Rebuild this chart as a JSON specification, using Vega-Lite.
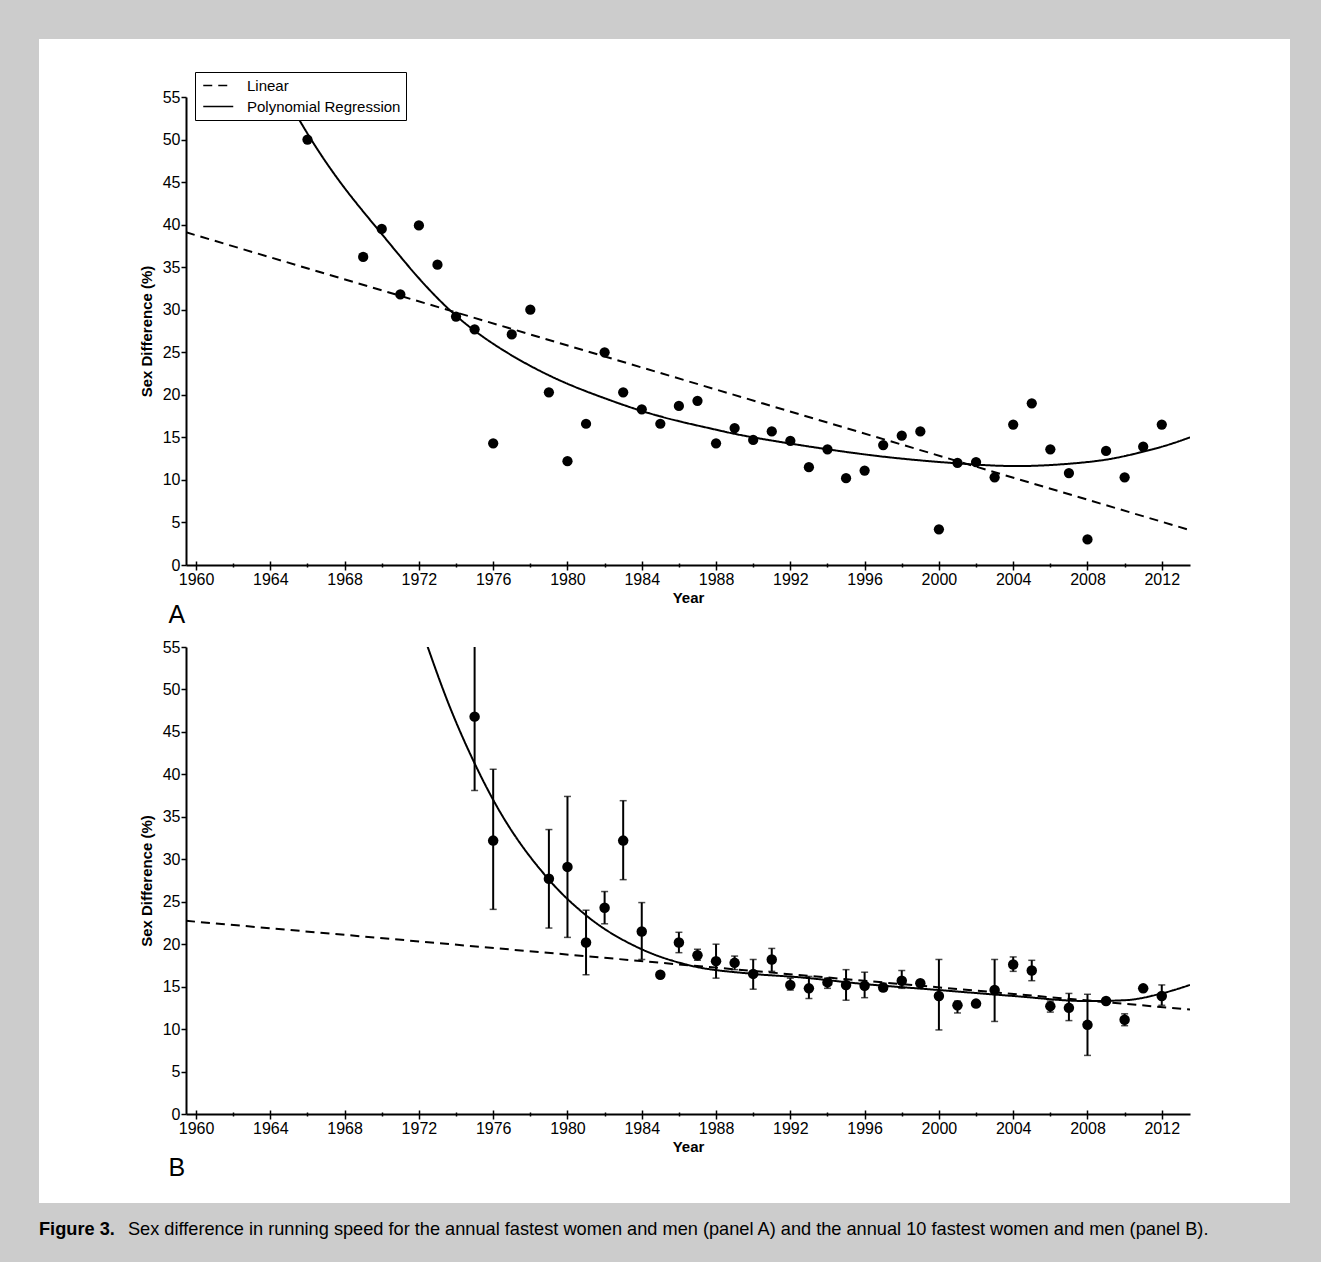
{
  "$schema": "https://vega.github.io/schema/vega-lite/v6.json",
  "background": "#cccccc",
  "padding": {"left": 39, "top": 38, "right": 31, "bottom": 0},
  "bounds": "flush",
  "spacing": 82,
  "config": {
    "view": {"stroke": null},
    "font": "Liberation Sans",
    "axis": {"grid": false, "domainColor": "black", "domainWidth": 2, "tickColor": "black", "tickWidth": 1.5, "labelColor": "black", "labelFont": "Liberation Sans", "titleFont": "Liberation Sans", "titleColor": "black", "titleFontWeight": "bold", "zindex": 1}
  },
  "datasets": {
    "pointsA": [
      {"year": 1966, "value": 50.0}, {"year": 1969, "value": 36.2}, {"year": 1970, "value": 39.5}, {"year": 1971, "value": 31.8},
      {"year": 1972, "value": 39.9}, {"year": 1973, "value": 35.3}, {"year": 1974, "value": 29.2}, {"year": 1975, "value": 27.7},
      {"year": 1976, "value": 14.3}, {"year": 1977, "value": 27.1}, {"year": 1978, "value": 30.0}, {"year": 1979, "value": 20.3},
      {"year": 1980, "value": 12.2}, {"year": 1981, "value": 16.6}, {"year": 1982, "value": 25.0}, {"year": 1983, "value": 20.3},
      {"year": 1984, "value": 18.3}, {"year": 1985, "value": 16.6}, {"year": 1986, "value": 18.7}, {"year": 1987, "value": 19.3},
      {"year": 1988, "value": 14.3}, {"year": 1989, "value": 16.1}, {"year": 1990, "value": 14.7}, {"year": 1991, "value": 15.7},
      {"year": 1992, "value": 14.6}, {"year": 1993, "value": 11.5}, {"year": 1994, "value": 13.6}, {"year": 1995, "value": 10.2},
      {"year": 1996, "value": 11.1}, {"year": 1997, "value": 14.1}, {"year": 1998, "value": 15.2}, {"year": 1999, "value": 15.7},
      {"year": 2000, "value": 4.2}, {"year": 2001, "value": 12.0}, {"year": 2002, "value": 12.1}, {"year": 2003, "value": 10.3},
      {"year": 2004, "value": 16.5}, {"year": 2005, "value": 19.0}, {"year": 2006, "value": 13.6}, {"year": 2007, "value": 10.8},
      {"year": 2008, "value": 3.0}, {"year": 2009, "value": 13.4}, {"year": 2010, "value": 10.3}, {"year": 2011, "value": 13.9},
      {"year": 2012, "value": 16.5}
    ],
    "linesA": [
      {"type": "Linear", "year": 1959.46, "value": 39.1},
      {"type": "Linear", "year": 2013.52, "value": 4.1},
      {"type": "Polynomial Regression", "year": 1964.7, "value": 55.6},
      {"type": "Polynomial Regression", "year": 1966.2, "value": 50.0},
      {"type": "Polynomial Regression", "year": 1968.0, "value": 44.3},
      {"type": "Polynomial Regression", "year": 1970.0, "value": 38.9},
      {"type": "Polynomial Regression", "year": 1972.0, "value": 33.7},
      {"type": "Polynomial Regression", "year": 1974.0, "value": 29.3},
      {"type": "Polynomial Regression", "year": 1976.0, "value": 26.0},
      {"type": "Polynomial Regression", "year": 1978.0, "value": 23.4},
      {"type": "Polynomial Regression", "year": 1980.0, "value": 21.3},
      {"type": "Polynomial Regression", "year": 1982.0, "value": 19.6},
      {"type": "Polynomial Regression", "year": 1984.0, "value": 18.1},
      {"type": "Polynomial Regression", "year": 1986.0, "value": 16.9},
      {"type": "Polynomial Regression", "year": 1988.0, "value": 15.9},
      {"type": "Polynomial Regression", "year": 1990.0, "value": 15.0},
      {"type": "Polynomial Regression", "year": 1994.0, "value": 13.6},
      {"type": "Polynomial Regression", "year": 1998.0, "value": 12.5},
      {"type": "Polynomial Regression", "year": 2002.0, "value": 11.8},
      {"type": "Polynomial Regression", "year": 2005.0, "value": 11.65},
      {"type": "Polynomial Regression", "year": 2008.0, "value": 12.1},
      {"type": "Polynomial Regression", "year": 2010.0, "value": 12.8},
      {"type": "Polynomial Regression", "year": 2012.0, "value": 13.9},
      {"type": "Polynomial Regression", "year": 2013.52, "value": 15.0}
    ],
    "pointsB": [
      {"year": 1975, "value": 46.8, "lo": 38.1, "hi": 57},
      {"year": 1976, "value": 32.2, "lo": 24.1, "hi": 40.6},
      {"year": 1979, "value": 27.7, "lo": 21.9, "hi": 33.5},
      {"year": 1980, "value": 29.1, "lo": 20.8, "hi": 37.4},
      {"year": 1981, "value": 20.2, "lo": 16.4, "hi": 24.0},
      {"year": 1982, "value": 24.3, "lo": 22.4, "hi": 26.2},
      {"year": 1983, "value": 32.2, "lo": 27.6, "hi": 36.9},
      {"year": 1984, "value": 21.5, "lo": 18.2, "hi": 24.9},
      {"year": 1985, "value": 16.4},
      {"year": 1986, "value": 20.2, "lo": 19.0, "hi": 21.4},
      {"year": 1987, "value": 18.7, "lo": 18.1, "hi": 19.4},
      {"year": 1988, "value": 18.0, "lo": 16.0, "hi": 20.0},
      {"year": 1989, "value": 17.8, "lo": 17.0, "hi": 18.6},
      {"year": 1990, "value": 16.5, "lo": 14.7, "hi": 18.2},
      {"year": 1991, "value": 18.2, "lo": 16.8, "hi": 19.5},
      {"year": 1992, "value": 15.2, "lo": 14.6, "hi": 16.0},
      {"year": 1993, "value": 14.8, "lo": 13.6, "hi": 16.2},
      {"year": 1994, "value": 15.5, "lo": 14.8, "hi": 16.0},
      {"year": 1995, "value": 15.2, "lo": 13.4, "hi": 17.0},
      {"year": 1996, "value": 15.1, "lo": 13.7, "hi": 16.7},
      {"year": 1997, "value": 14.9, "lo": 14.5, "hi": 15.4},
      {"year": 1998, "value": 15.7, "lo": 14.8, "hi": 16.9},
      {"year": 1999, "value": 15.4},
      {"year": 2000, "value": 13.9, "lo": 9.9, "hi": 18.2},
      {"year": 2001, "value": 12.8, "lo": 11.9, "hi": 13.3},
      {"year": 2002, "value": 13.0},
      {"year": 2003, "value": 14.6, "lo": 10.9, "hi": 18.2},
      {"year": 2004, "value": 17.6, "lo": 16.8, "hi": 18.5},
      {"year": 2005, "value": 16.9, "lo": 15.7, "hi": 18.1},
      {"year": 2006, "value": 12.7, "lo": 12.0, "hi": 13.3},
      {"year": 2007, "value": 12.5, "lo": 11.0, "hi": 14.2},
      {"year": 2008, "value": 10.5, "lo": 6.9, "hi": 14.1},
      {"year": 2009, "value": 13.3},
      {"year": 2010, "value": 11.1, "lo": 10.4, "hi": 11.8},
      {"year": 2011, "value": 14.8},
      {"year": 2012, "value": 13.9, "lo": 12.8, "hi": 15.2}
    ],
    "linesB": [
      {"type": "Linear", "year": 1959.46, "value": 22.75},
      {"type": "Linear", "year": 2013.52, "value": 12.3},
      {"type": "Polynomial Regression", "year": 1972.3, "value": 56.1},
      {"type": "Polynomial Regression", "year": 1973.6, "value": 48.3},
      {"type": "Polynomial Regression", "year": 1975.0, "value": 41.3},
      {"type": "Polynomial Regression", "year": 1976.0, "value": 37.0},
      {"type": "Polynomial Regression", "year": 1979.0, "value": 27.6},
      {"type": "Polynomial Regression", "year": 1981.0, "value": 23.4},
      {"type": "Polynomial Regression", "year": 1984.0, "value": 19.4},
      {"type": "Polynomial Regression", "year": 1986.4, "value": 17.6},
      {"type": "Polynomial Regression", "year": 1990.0, "value": 16.5},
      {"type": "Polynomial Regression", "year": 1992.5, "value": 16.1},
      {"type": "Polynomial Regression", "year": 1996.0, "value": 15.3},
      {"type": "Polynomial Regression", "year": 2000.0, "value": 14.6},
      {"type": "Polynomial Regression", "year": 2004.0, "value": 13.9},
      {"type": "Polynomial Regression", "year": 2008.0, "value": 13.3},
      {"type": "Polynomial Regression", "year": 2010.0, "value": 13.4},
      {"type": "Polynomial Regression", "year": 2012.0, "value": 14.2},
      {"type": "Polynomial Regression", "year": 2013.52, "value": 15.2}
    ],
    "caption": [
      {"bold": "Figure 3.", "text": "Sex difference in running speed for the annual fastest women and men (panel A) and the annual 10 fastest women and men (panel B)."}
    ]
  },
  "vconcat": [
    {
      "width": 1004,
      "height": 468,
      "layer": [
        {
          "data": {"values": [{}]},
          "mark": {"type": "rect", "fill": "white"},
          "encoding": {
            "x": {"datum": 1951.545, "type": "quantitative", "scale": {"domain": [1959.46, 2013.52], "nice": false, "zero": false},
                  "axis": {"title": "A", "titleX": -18, "titleY": 37, "titleAlign": "left", "titleBaseline": "top", "titleAngle": 0, "titleFontSize": 25, "titleFontWeight": "normal",
                           "orient": "bottom", "labels": false, "domain": false, "zindex": 1,
                           "values": [1960,1962,1964,1966,1968,1970,1972,1974,1976,1978,1980,1982,1984,1986,1988,1990,1992,1994,1996,1998,2000,2002,2004,2006,2008,2010,2012],
                           "tickSize": {"condition": {"test": "datum.value % 4 == 0", "value": -4}, "value": -2}}},
            "x2": {"datum": 2018.904},
            "y": {"datum": 61.82, "type": "quantitative", "scale": {"domain": [0, 55], "nice": false, "zero": false},
                  "axis": {"title": "Sex Difference (%)", "zindex": 1, "values": [0,5,10,15,20,25,30,35,40,45,50,55], "tickSize": 5, "labelFontSize": 16, "labelPadding": 1, "titleFontSize": 15, "titlePadding": 8}},
            "y2": {"datum": -74.98}
          }
        },
        {
          "data": {"name": "linesA"},
          "mark": {"type": "line", "color": "black", "strokeWidth": 2, "clip": true, "interpolate": "natural"},
          "encoding": {
            "x": {"field": "year", "type": "quantitative", "scale": {"domain": [1959.46, 2013.52], "nice": false, "zero": false},
                  "axis": {"title": "Year", "orient": "bottom", "format": "d", "zindex": 1, "values": [1960,1962,1964,1966,1968,1970,1972,1974,1976,1978,1980,1982,1984,1986,1988,1990,1992,1994,1996,1998,2000,2002,2004,2006,2008,2010,2012],
                           "labelExpr": "datum.value % 4 == 0 ? datum.label : ''", "labelFlush": false, "labelOverlap": false,
                           "tickSize": {"condition": {"test": "datum.value % 4 == 0", "value": 5}, "value": 2},
                           "labelFontSize": 16, "labelPadding": 1, "titleFontSize": 15, "titlePadding": 3}},
            "y": {"field": "value", "type": "quantitative", "scale": {"domain": [0, 55], "nice": false, "zero": false},
                  "axis": {"title": "Sex Difference (%)", "zindex": 1, "values": [0,5,10,15,20,25,30,35,40,45,50,55], "tickSize": 5, "labelFontSize": 16, "labelPadding": 1, "titleFontSize": 15, "titlePadding": 8}},
            "strokeDash": {"field": "type", "type": "nominal",
                           "scale": {"domain": ["Linear", "Polynomial Regression"], "range": [[9, 6], [1, 0]]},
                           "legend": {"title": null, "orient": "none", "legendX": 9, "legendY": -25,
                                      "symbolType": "M-0.7,0H3.3", "symbolSize": 225, "symbolStrokeWidth": 1.5, "symbolStrokeColor": "black", "symbolFillColor": "transparent",
                                      "labelFontSize": 15, "labelFont": "Liberation Sans", "labelColor": "black", "labelOffset": 30,
                                      "padding": 5, "rowPadding": 4, "strokeColor": "black", "fillColor": "white"}}
          }
        },
        {
          "data": {"name": "pointsA"},
          "mark": {"type": "point", "shape": "circle", "filled": true, "size": 105, "color": "black", "opacity": 1},
          "encoding": {
            "x": {"field": "year", "type": "quantitative", "scale": {"domain": [1959.46, 2013.52], "nice": false, "zero": false}, "axis": null},
            "y": {"field": "value", "type": "quantitative", "scale": {"domain": [0, 55], "nice": false, "zero": false},
                  "axis": {"title": "Sex Difference (%)", "zindex": 1, "values": [0,5,10,15,20,25,30,35,40,45,50,55], "tickSize": 5, "labelFontSize": 16, "labelPadding": 1, "titleFontSize": 15, "titlePadding": 8}}
          }
        }
      ],
      "resolve": {"axis": {"x": "independent"}}
    },
    {
      "width": 1004,
      "height": 467,
      "layer": [
        {
          "data": {"name": "linesB"},
          "mark": {"type": "line", "color": "black", "strokeWidth": 2, "clip": true, "interpolate": "monotone"},
          "encoding": {
            "x": {"field": "year", "type": "quantitative", "scale": {"domain": [1959.46, 2013.52], "nice": false, "zero": false},
                  "axis": {"title": "Year", "orient": "bottom", "format": "d", "zindex": 1, "values": [1960,1962,1964,1966,1968,1970,1972,1974,1976,1978,1980,1982,1984,1986,1988,1990,1992,1994,1996,1998,2000,2002,2004,2006,2008,2010,2012],
                           "labelExpr": "datum.value % 4 == 0 ? datum.label : ''", "labelFlush": false, "labelOverlap": false,
                           "tickSize": {"condition": {"test": "datum.value % 4 == 0", "value": 5}, "value": 2},
                           "labelFontSize": 16, "labelPadding": 1, "titleFontSize": 15, "titlePadding": 3}},
            "y": {"field": "value", "type": "quantitative", "scale": {"domain": [0, 55], "nice": false, "zero": false},
                  "axis": {"title": "Sex Difference (%)", "zindex": 1, "values": [0,5,10,15,20,25,30,35,40,45,50,55], "tickSize": 5, "labelFontSize": 16, "labelPadding": 1, "titleFontSize": 15, "titlePadding": 8}},
            "strokeDash": {"field": "type", "type": "nominal",
                           "scale": {"domain": ["Linear", "Polynomial Regression"], "range": [[9, 6], [1, 0]]}, "legend": null}
          }
        },
        {
          "data": {"name": "pointsB"},
          "mark": {"type": "rule", "color": "black", "strokeWidth": 2, "clip": true},
          "encoding": {
            "x": {"field": "year", "type": "quantitative", "scale": {"domain": [1959.46, 2013.52], "nice": false, "zero": false},
                  "axis": {"title": "B", "titleX": -18, "titleY": 41, "titleAlign": "left", "titleBaseline": "top", "titleAngle": 0, "titleFontSize": 25, "titleFontWeight": "normal",
                           "orient": "bottom", "labels": false, "domain": false, "zindex": 1,
                           "values": [1960,1962,1964,1966,1968,1970,1972,1974,1976,1978,1980,1982,1984,1986,1988,1990,1992,1994,1996,1998,2000,2002,2004,2006,2008,2010,2012],
                           "tickSize": {"condition": {"test": "datum.value % 4 == 0", "value": -4}, "value": -2}}},
            "y": {"field": "lo", "type": "quantitative", "scale": {"domain": [0, 55], "nice": false, "zero": false},
                  "axis": {"title": "Sex Difference (%)", "zindex": 1, "values": [0,5,10,15,20,25,30,35,40,45,50,55], "tickSize": 5, "labelFontSize": 16, "labelPadding": 1, "titleFontSize": 15, "titlePadding": 8}},
            "y2": {"field": "hi"}
          }
        },
        {
          "data": {"name": "pointsB"},
          "mark": {"type": "tick", "orient": "horizontal", "color": "black", "size": 7, "thickness": 1.5, "clip": true},
          "encoding": {
            "x": {"field": "year", "type": "quantitative", "scale": {"domain": [1959.46, 2013.52], "nice": false, "zero": false}, "axis": null},
            "y": {"field": "lo", "type": "quantitative", "scale": {"domain": [0, 55], "nice": false, "zero": false},
                  "axis": {"title": "Sex Difference (%)", "zindex": 1, "values": [0,5,10,15,20,25,30,35,40,45,50,55], "tickSize": 5, "labelFontSize": 16, "labelPadding": 1, "titleFontSize": 15, "titlePadding": 8}}
          }
        },
        {
          "data": {"name": "pointsB"},
          "mark": {"type": "tick", "orient": "horizontal", "color": "black", "size": 7, "thickness": 1.5, "clip": true},
          "encoding": {
            "x": {"field": "year", "type": "quantitative", "scale": {"domain": [1959.46, 2013.52], "nice": false, "zero": false}, "axis": null},
            "y": {"field": "hi", "type": "quantitative", "scale": {"domain": [0, 55], "nice": false, "zero": false},
                  "axis": {"title": "Sex Difference (%)", "zindex": 1, "values": [0,5,10,15,20,25,30,35,40,45,50,55], "tickSize": 5, "labelFontSize": 16, "labelPadding": 1, "titleFontSize": 15, "titlePadding": 8}}
          }
        },
        {
          "data": {"name": "pointsB"},
          "mark": {"type": "point", "shape": "circle", "filled": true, "size": 110, "color": "black", "opacity": 1},
          "encoding": {
            "x": {"field": "year", "type": "quantitative", "scale": {"domain": [1959.46, 2013.52], "nice": false, "zero": false}, "axis": null},
            "y": {"field": "value", "type": "quantitative", "scale": {"domain": [0, 55], "nice": false, "zero": false},
                  "axis": {"title": "Sex Difference (%)", "zindex": 1, "values": [0,5,10,15,20,25,30,35,40,45,50,55], "tickSize": 5, "labelFontSize": 16, "labelPadding": 1, "titleFontSize": 15, "titlePadding": 8}}
          }
        }
      ],
      "resolve": {"axis": {"x": "independent"}}
    },
    {
      "width": 1004,
      "height": 67,
      "data": {"name": "caption"},
      "layer": [
        {
          "mark": {"type": "text", "fontWeight": "bold", "fontSize": 18.2, "align": "left", "baseline": "middle", "color": "black", "font": "Liberation Sans"},
          "encoding": {
            "x": {"datum": -0.1464, "type": "quantitative", "scale": {"domain": [0, 1], "nice": false, "zero": false}, "axis": null},
            "text": {"field": "bold"}
          }
        },
        {
          "mark": {"type": "text", "fontSize": 18.2, "align": "left", "baseline": "middle", "color": "black", "font": "Liberation Sans"},
          "encoding": {
            "x": {"datum": -0.0578, "type": "quantitative", "scale": {"domain": [0, 1], "nice": false, "zero": false}, "axis": null},
            "text": {"field": "text"}
          }
        }
      ]
    }
  ]
}
